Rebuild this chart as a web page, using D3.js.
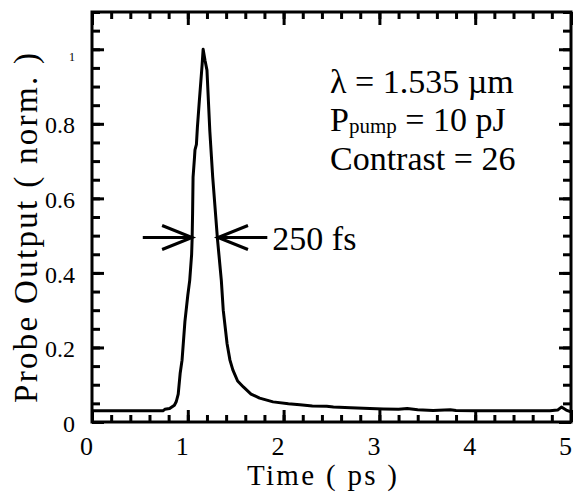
<!DOCTYPE html>
<html>
<head>
<meta charset="utf-8">
<script src="https://cdn.jsdelivr.net/npm/d3@7"></script>
<style>
  body { margin: 0; background: #fff; }
  svg { display: block; }
  svg text { font-family: "Liberation Serif", "Times New Roman", Tinos, "DejaVu Serif", "Noto Serif", FreeSerif, Times, serif !important; fill: #000; }
</style>
</head>
<body>
<div id="chart"></div>
<script>
// Pump-probe trace
let timePs = [0, 0.3, 0.6, 0.74, 0.76, 0.81, 0.86, 0.88, 0.9, 0.92, 0.94, 0.97, 1.0, 1.02, 1.04,
  1.045, 1.05, 1.055, 1.07, 1.075, 1.09, 1.1, 1.12, 1.15, 1.16, 1.18, 1.2, 1.23, 1.26, 1.31,
  1.35, 1.37, 1.41, 1.44, 1.47, 1.52, 1.58, 1.66, 1.75, 1.89, 2.05, 2.17, 2.3, 2.45, 2.52,
  2.7, 2.9, 3.04, 3.2, 3.29, 3.4, 3.56, 3.74, 3.8, 4.0, 4.3, 4.6, 4.78, 4.86, 4.9, 4.95, 5.0]
let probeOut = [0.03, 0.03, 0.03, 0.03, 0.034, 0.036, 0.045, 0.055, 0.075, 0.13, 0.166, 0.27, 0.34,
  0.38, 0.45, 0.49, 0.56, 0.657, 0.71, 0.73, 0.745, 0.79, 0.86, 0.96, 1.0, 0.97, 0.944, 0.78,
  0.657, 0.49, 0.38, 0.3, 0.21, 0.166, 0.14, 0.11, 0.094, 0.075, 0.064, 0.054, 0.049, 0.046,
  0.043, 0.042, 0.04, 0.038, 0.036, 0.035, 0.034, 0.036, 0.033, 0.031, 0.033, 0.031, 0.03,
  0.03, 0.03, 0.03, 0.032, 0.04, 0.032, 0.027]

let xMajor = [0, 1, 2, 3, 4, 5]
let yMajor = [0, 0.2, 0.4, 0.6, 0.8, 1]
let xMinor = d3.range(0, 5.001, 0.2)
let yMinor = d3.range(0, 1.101, 0.05)

// FWHM arrows: [tail, tip] in ps at a given level
let fwhmLevel = 0.495
let leftArrow = [0.53, 1.045]
let rightArrow = [1.83, 1.315]
let fwhmLabel = '250 fs'

let infoLines = ['λ = 1.535 µm', 'Contrast = 26']

let serif = '"Liberation Serif", "Times New Roman", Tinos, "DejaVu Serif", "Noto Serif", FreeSerif, Times, serif'

let width = 576
let height = 503
let margin = { top: 12, left: 92, right: 5, bottom: 81 }

let svg = d3.select('#chart')
  .append('svg')
  .attr('width', width)
  .attr('height', height)
  .attr('font-family', serif)

let xPositionScale = d3.scaleLinear().domain([0, 5]).range([margin.left, width - margin.right])
let yPositionScale = d3.scaleLinear().domain([0, 1.1]).range([height - margin.bottom, margin.top])

let x0 = xPositionScale(0), x1 = xPositionScale(5)
let y0 = yPositionScale(0), y1 = yPositionScale(1.1)

// ticks, all pointing inwards
function tickGroup(axis, transform) {
  let g = svg.append('g').attr('transform', transform).call(axis)
  g.select('.domain').remove()
  g.selectAll('line').attr('stroke', '#000').attr('stroke-width', 3)
  g.selectAll('text').remove()
  return g
}

tickGroup(d3.axisBottom(xPositionScale).tickValues(xMinor).tickSize(-7), `translate(0,${y0})`)
tickGroup(d3.axisBottom(xPositionScale).tickValues(xMajor).tickSize(-12), `translate(0,${y0})`)
tickGroup(d3.axisTop(xPositionScale).tickValues(xMinor).tickSize(-7), `translate(0,${y1})`)
tickGroup(d3.axisTop(xPositionScale).tickValues(xMajor).tickSize(-13), `translate(0,${y1})`)
tickGroup(d3.axisLeft(yPositionScale).tickValues(yMinor).tickSize(-8), `translate(${x0},0)`)
tickGroup(d3.axisLeft(yPositionScale).tickValues(yMajor).tickSize(-12), `translate(${x0},0)`)
tickGroup(d3.axisRight(yPositionScale).tickValues(yMinor).tickSize(-8), `translate(${x1},0)`)
tickGroup(d3.axisRight(yPositionScale).tickValues(yMajor).tickSize(-12), `translate(${x1},0)`)

// tick labels
let xLabels = svg.append('g')
  .attr('transform', `translate(0,${y0})`)
  .call(d3.axisBottom(xPositionScale).tickValues(xMajor).tickSize(0).tickPadding(15).tickFormat(d3.format('d')))
xLabels.attr('font-family', serif)
xLabels.select('.domain').remove()
xLabels.selectAll('text')
  .attr('font-size', 26)
  .attr('dx', -6)

let yLabels = svg.append('g')
  .attr('transform', `translate(${x0},0)`)
  .call(d3.axisLeft(yPositionScale).tickValues(yMajor).tickSize(0).tickPadding(17).tickFormat(d => d === 0 ? '0' : d === 1 ? '1' : d.toFixed(1)))
yLabels.attr('font-family', serif)
yLabels.select('.domain').remove()
yLabels.selectAll('text')
  .attr('font-size', d => d === 1 ? 12 : 24)
  .attr('dy', d => d === 1 ? '0.9em' : '0.38em')

// the trace
let line = d3.line()
  .x((d, i) => xPositionScale(timePs[i]))
  .y(d => yPositionScale(d))

svg.append('path')
  .datum(probeOut)
  .attr('d', line)
  .attr('fill', 'none')
  .attr('stroke', '#000')
  .attr('stroke-width', 3)
  .attr('stroke-linejoin', 'round')

// frame
svg.append('rect')
  .attr('x', x0)
  .attr('y', y1)
  .attr('width', x1 - x0)
  .attr('height', y0 - y1)
  .attr('fill', 'none')
  .attr('stroke', '#000')
  .attr('stroke-width', 3)

// FWHM arrows
function arrow(ends) {
  let ay = yPositionScale(fwhmLevel)
  let tail = xPositionScale(ends[0])
  let tip = xPositionScale(ends[1])
  let dir = tip > tail ? 1 : -1
  let g = svg.append('g')
    .attr('stroke', '#000')
    .attr('stroke-width', 3)
    .attr('fill', 'none')
  g.append('line').attr('x1', tail).attr('x2', tip).attr('y1', ay).attr('y2', ay)
  g.append('path')
    .attr('d', `M${tip - dir * 30},${ay - 12} L${tip},${ay} L${tip - dir * 30},${ay + 12}`)
}
arrow(leftArrow)
arrow(rightArrow)

svg.append('text')
  .attr('x', xPositionScale(rightArrow[0]) + 5)
  .attr('y', yPositionScale(fwhmLevel) + 12)
  .attr('font-size', 34)
  .text(fwhmLabel)

// parameters
svg.append('text')
  .attr('x', 330)
  .attr('y', 93)
  .attr('font-size', 34)
  .text(infoLines[0])

let pLine = svg.append('text')
  .attr('x', 330)
  .attr('y', 131)
  .attr('font-size', 34)
pLine.append('tspan').text('P')
pLine.append('tspan').attr('font-size', 21).attr('dy', 2).text('pump')
pLine.append('tspan').attr('dy', -2).text(' = 10 pJ')

svg.append('text')
  .attr('x', 330)
  .attr('y', 170)
  .attr('font-size', 34)
  .text(infoLines[1])

// axis titles
svg.append('text')
  .attr('x', 322)
  .attr('y', 485)
  .attr('text-anchor', 'middle')
  .attr('font-size', 29)
  .attr('textLength', 150)
  .text('Time ( ps )')

svg.append('text')
  .attr('transform', 'translate(37,228) rotate(-90)')
  .attr('text-anchor', 'middle')
  .attr('font-size', 33)
  .attr('textLength', 350)
  .text('Probe Output ( norm. )')
</script>
</body>
</html>
